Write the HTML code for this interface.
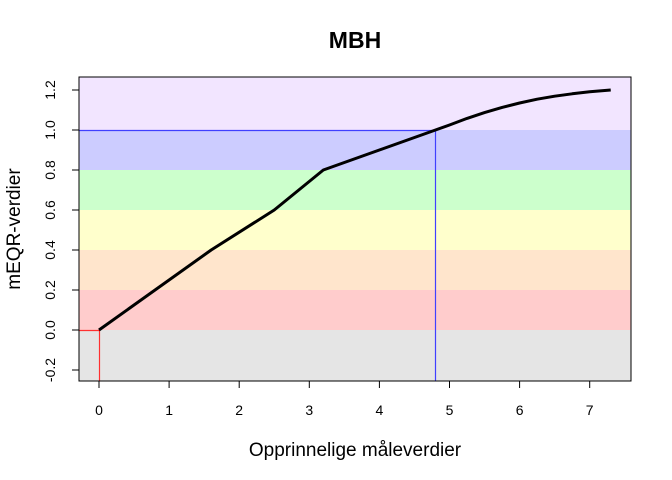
<!DOCTYPE html>
<html><head><meta charset="utf-8"><style>body{margin:0;background:#fff}svg{display:block;font-family:"Liberation Sans",sans-serif}</style></head>
<body>
<svg id="c" width="672" height="480"></svg>
<script>
const xs=[0,1.6,2.5,3.2,4.8,5.0,5.25,5.5,5.75,6.0,6.25,6.5,6.75,7.0,7.3];
const ys=[0,0.4,0.6,0.8,1.0,1.025,1.058,1.087,1.113,1.135,1.154,1.169,1.181,1.191,1.2];
const xTicks=[0,1,2,3,4,5,6,7];
const yTicks=[-0.2,0,0.2,0.4,0.6,0.8,1.0,1.2];
const yTickLabels=["-0.2","0.0","0.2","0.4","0.6","0.8","1.0","1.2"];
const bandEdges=[-0.255,0,0.2,0.4,0.6,0.8,1.0,1.265];
const bandColors=["#e5e5e5","#ffcccc","#ffe5cc","#ffffcc","#ccffcc","#ccccff","#f2e5ff"];
const refX=4.8, refY=1.0;
const L=79,R=631,T=77,B=381;
const X=v=>99+v*70.1, Y=v=>330-v*200;
const s=document.getElementById('c');const ns='http://www.w3.org/2000/svg';
function el(t,a,txt){const e=document.createElementNS(ns,t);for(const k in a)e.setAttribute(k,a[k]);if(txt!=null)e.textContent=txt;s.appendChild(e);return e;}
for(let i=0;i<bandColors.length;i++){const e=el('rect',{x:L,y:Y(bandEdges[i+1]),width:R-L,height:Y(bandEdges[i])-Y(bandEdges[i+1]),fill:bandColors[i]});

}
let e;
const rx=Math.round(X(refX))+0.5, zx=Math.round(X(0))+0.5;
e=el('line',{x1:L,y1:Y(0)+0.5,x2:zx,y2:Y(0)+0.5,stroke:'#ff3030','stroke-width':1.2});


e=el('line',{x1:zx,y1:Y(0),x2:zx,y2:B,stroke:'#ff3030','stroke-width':1.2});


e=el('line',{x1:L,y1:Y(refY)+0.5,x2:rx,y2:Y(refY)+0.5,stroke:'#4040ff','stroke-width':1.2});


e=el('line',{x1:rx,y1:Y(refY),x2:rx,y2:B,stroke:'#4040ff','stroke-width':1.2});


e=el('polyline',{points:xs.map((v,i)=>X(v)+','+Y(ys[i])).join(' '),fill:'none',stroke:'#000','stroke-width':3,'stroke-linejoin':'round'});


e=el('rect',{x:L,y:T,width:R-L,height:B-T,fill:'none',stroke:'#000'});


xTicks.forEach(v=>{el('line',{x1:X(v),x2:X(v),y1:B,y2:B+7,stroke:'#000'});
e=el('text',{x:X(v),y:B+34,'text-anchor':'middle','font-size':14},v);

});
yTicks.forEach((v,i)=>{el('line',{x1:L,x2:L-7,y1:Y(v),y2:Y(v),stroke:'#000'});
e=el('text',{x:L-24,y:Y(v),'text-anchor':'middle','font-size':14,transform:`rotate(-90 ${L-24} ${Y(v)})`},yTickLabels[i]);

});
e=el('text',{x:355,y:48,'text-anchor':'middle','font-size':23,'font-weight':'bold'},'MBH');


e=el('text',{x:355,y:456,'text-anchor':'middle','font-size':19},'Opprinnelige måleverdier');


e=el('text',{x:20,y:229,'text-anchor':'middle','font-size':19,transform:'rotate(-90 20 229)'},'mEQR-verdier');


</script>
</body></html>
